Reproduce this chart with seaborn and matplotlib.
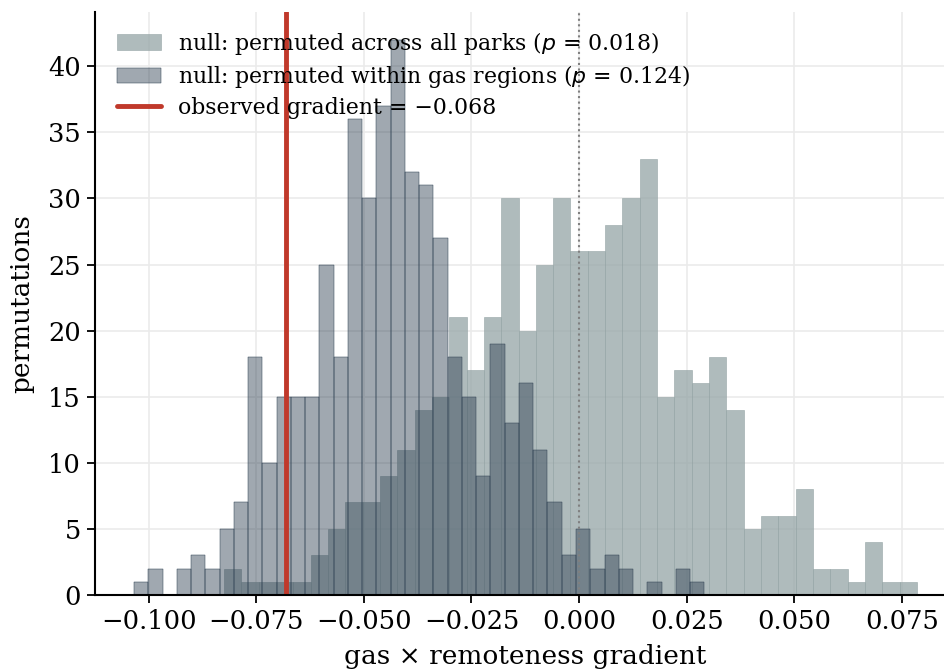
import numpy as np
import pandas as pd
import matplotlib
matplotlib.use("Agg")
import matplotlib.pyplot as plt
import seaborn as sns

# null distribution counts, 40 bins each
across_range = (-0.0825, 0.0785)
across_counts = [2, 1, 1, 1, 1, 3, 5, 7, 7, 9,
                 11, 14, 15, 21, 17, 21, 30, 20, 25, 30,
                 26, 26, 28, 30, 33, 15, 17, 16, 18, 14,
                 5, 6, 6, 8, 2, 2, 1, 4, 1, 1]

within_range = (-0.1034, 0.0291)
within_counts = [1, 2, 0, 2, 3, 2, 5, 7, 18, 10,
                 15, 15, 15, 25, 18, 36, 30, 37, 42, 32,
                 31, 27, 18, 15, 9, 19, 13, 16, 11, 7,
                 3, 5, 2, 3, 2, 0, 1, 0, 2, 1]

observed = -0.068
p_across = 0.018
p_within = 0.124
n_bins = 40

ACROSS_COLOR = "#95a5a6"
WITHIN_COLOR = "#2c3e50"
OBS_COLOR = "#c0392b"


def bin_table(rng, counts):
    edges = np.linspace(rng[0], rng[1], len(counts) + 1)
    centers = (edges[:-1] + edges[1:]) / 2
    return pd.DataFrame({"gradient": centers, "count": counts})


def main():
    sns.set_theme(style="whitegrid")
    plt.rcParams["font.family"] = ["DejaVu Serif"]
    for key in ["text.color", "axes.labelcolor", "xtick.color", "ytick.color"]:
        plt.rcParams[key] = "black"

    fig = plt.figure(figsize=(9.45, 6.72), dpi=100)
    ax = fig.add_axes([95 / 945, 77 / 672, 861 / 945, 583 / 672])

    across = bin_table(across_range, across_counts)
    within = bin_table(within_range, within_counts)

    sns.histplot(data=across, x="gradient", weights="count", bins=n_bins,
                 binrange=across_range, color=ACROSS_COLOR, alpha=0.75,
                 edgecolor=ACROSS_COLOR, linewidth=0.4, ax=ax,
                 label=f"null: permuted across all parks ($p$ = {p_across:.3f})")
    sns.histplot(data=within, x="gradient", weights="count", bins=n_bins,
                 binrange=within_range, color=WITHIN_COLOR, alpha=0.45,
                 edgecolor=WITHIN_COLOR, linewidth=0.35, ax=ax,
                 label=f"null: permuted within gas regions ($p$ = {p_within:.3f})")

    ax.axvline(observed, color=OBS_COLOR, lw=3.5,
               label=f"observed gradient = \u2212{abs(observed):.3f}")
    ax.axvline(0, color="grey", lw=1.5, ls=":")

    ax.set_xlim(-0.1125, 0.0876)
    ax.set_ylim(0, 44.1)
    ax.set_xticks([-0.1, -0.075, -0.05, -0.025, 0, 0.025, 0.05, 0.075])
    ax.set_yticks(range(0, 45, 5))
    ax.grid(True, color="#ebebeb", lw=1.2)
    ax.set_axisbelow(True)

    ax.set_xlabel("gas \u00d7 remoteness gradient", fontsize=19, labelpad=7)
    ax.set_ylabel("permutations", fontsize=19, labelpad=10)
    ax.tick_params(axis="both", labelsize=18.5, length=6, width=1.3,
                   color="black", bottom=True, left=True, pad=4)

    sns.despine(ax=ax)
    for side in ["left", "bottom"]:
        ax.spines[side].set_color("black")
        ax.spines[side].set_linewidth(1.5)

    handles, labels = ax.get_legend_handles_labels()
    order = [1, 2, 0]
    ax.legend([handles[i] for i in order], [labels[i] for i in order],
              loc="upper left", bbox_to_anchor=(0.006, 0.998),
              frameon=False, fontsize=15.8,
              handlelength=2.0, borderaxespad=0.35, labelspacing=0.3)

    fig.savefig("out.png", dpi=100)
    plt.close(fig)


if __name__ == "__main__":
    main()
